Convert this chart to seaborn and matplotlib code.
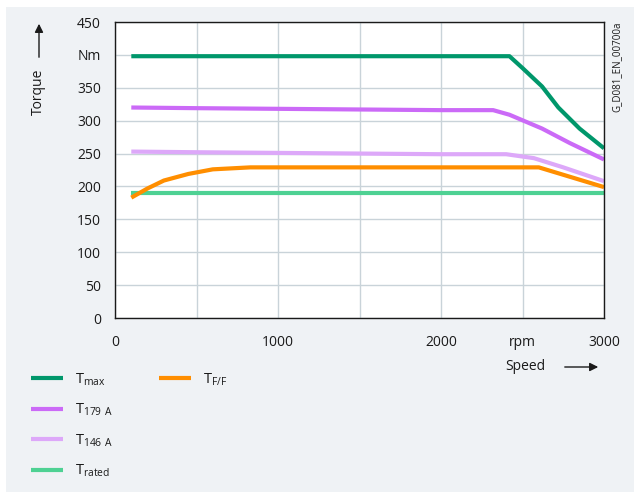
import numpy as np
import pandas as pd
import matplotlib
matplotlib.use("Agg")
import matplotlib.pyplot as plt
from matplotlib.lines import Line2D
from matplotlib.patches import Rectangle, FancyArrowPatch
import seaborn as sns

# ---- data ----
speed_max = [100, 500, 1000, 1500, 2000, 2420, 2500, 2620, 2720, 2850, 3000]
t_max = [398, 398, 398, 398, 398, 398, 380, 352, 320, 288, 258]

speed_179 = [100, 500, 1000, 1500, 2000, 2320, 2420, 2620, 2790, 3000]
t_179 = [320, 319, 318, 317, 316, 316, 309, 288, 266, 241]

speed_146 = [100, 500, 1000, 1500, 2000, 2400, 2570, 2750, 3000]
t_146 = [253, 252, 251, 250, 249, 249, 243, 229, 208]

speed_rated = [100, 3000]
t_rated = [190, 190]

speed_ff = [100, 200, 300, 450, 600, 830, 1500, 2000, 2600, 3000]
t_ff = [183, 197, 209, 219, 226, 229, 229, 229, 229, 199]

y_ticks = [0, 50, 100, 150, 200, 250, 300, 350, 400, 450]
y_labels = ["0", "50", "100", "150", "200", "250", "300", "350", "Nm", "450"]
x_ticks = [0, 1000, 2000, 2500, 3000]
x_labels = ["0", "1000", "2000", "rpm", "3000"]

series = [
    ("Tmax", speed_max, t_max, "#00976B", r"T$_\mathregular{max}$"),
    ("T179", speed_179, t_179, "#CB6AF7", r"T$_\mathregular{179\ A}$"),
    ("T146", speed_146, t_146, "#DDA8F9", r"T$_\mathregular{146\ A}$"),
    ("Trated", speed_rated, t_rated, "#4ED193", r"T$_\mathregular{rated}$"),
    ("TFF", speed_ff, t_ff, "#FF8E00", r"T$_\mathregular{F/F}$"),
]

sns.set_style("white")
plt.rcParams["font.family"] = ["Open Sans", "DejaVu Sans"]
plt.rcParams["mathtext.fontset"] = "custom"
plt.rcParams["mathtext.rm"] = "Open Sans"

W, H = 643, 494
fig = plt.figure(figsize=(W / 100, H / 100), dpi=100)
fig.patch.set_facecolor("white")
fig.add_artist(Rectangle((6 / W, 1 - 492 / H), (634 - 6) / W, (492 - 7) / H,
                         transform=fig.transFigure, facecolor="#EFF2F5",
                         edgecolor="none", zorder=-10))

ax = fig.add_axes([115 / W, 1 - 318 / H, (604 - 115) / W, (318 - 22) / H])
ax.set_facecolor("white")

handles = {}
draw_order = ["Trated", "TFF", "T146", "T179", "Tmax"]
lookup = {s[0]: s for s in series}
for key in draw_order:
    name, xs, ys, col, lab = lookup[key]
    df = pd.DataFrame({"speed": xs, "torque": ys})
    sns.lineplot(data=df, x="speed", y="torque", ax=ax, color=col,
                 linewidth=3.0, sort=False, estimator=None, legend=False,
                 solid_capstyle="butt")
    handles[name] = Line2D([], [], color=col, linewidth=3.0, solid_capstyle="butt")

ax.set_xlim(0, 3000)
ax.set_ylim(0, 450)
ax.set_xticks(x_ticks)
ax.set_xticklabels(x_labels)
ax.set_xticks([500, 1500], minor=True)
ax.set_yticks(y_ticks)
ax.set_yticklabels(y_labels)
ax.grid(True, which="both", color="#C9D3D9", linewidth=1.0)
ax.set_axisbelow(True)
ax.set_xlabel("")
ax.set_ylabel("")
for sp in ax.spines.values():
    sp.set_color("#1a1a1a")
    sp.set_linewidth(1.0)
ax.tick_params(axis="both", which="major", direction="out", length=5, width=1,
               color="#1a1a1a", labelsize=10, labelcolor="#1a1a1a", pad=5)
ax.tick_params(axis="x", which="minor", length=0)
ax.tick_params(axis="x", which="major", pad=7)
ax.xaxis.get_major_ticks()[3].tick1line.set_visible(False)

# axis titles with arrows
fig.text(38 / W, 1 - 92 / H, "Torque", rotation=90, ha="center", va="center",
         fontsize=10, color="#1a1a1a")
fig.add_artist(FancyArrowPatch((39 / W, 1 - 60 / H), (39 / W, 1 - 21 / H),
                               transform=fig.transFigure, arrowstyle="-|>,head_length=5,head_width=2.5",
                               color="#1a1a1a", linewidth=1.0, mutation_scale=1))
fig.text(525 / W, 1 - 366 / H, "Speed", ha="center", va="center",
         fontsize=10, color="#1a1a1a")
fig.add_artist(FancyArrowPatch((562 / W, 1 - 367 / H), (601 / W, 1 - 367 / H),
                               transform=fig.transFigure, arrowstyle="-|>,head_length=5,head_width=2.5",
                               color="#1a1a1a", linewidth=1.0, mutation_scale=1))
fig.text(617 / W, 1 - 22 / H, "G_D081_EN_00700a", rotation=90, ha="center", va="top",
         fontsize=7, color="#1a1a1a")

# legend (two columns: 4 entries + 1 entry)
blank = Line2D([], [], color="none")
leg_handles = [handles["Tmax"], handles["T179"], handles["T146"], handles["Trated"],
               handles["TFF"], blank, blank, blank]
leg_labels = [lookup["Tmax"][4], lookup["T179"][4], lookup["T146"][4], lookup["Trated"][4],
              lookup["TFF"][4], "", "", ""]
fig.legend(leg_handles, leg_labels, ncol=2, loc="upper left",
           bbox_to_anchor=(18 / W, 1 - 358 / H), frameon=False, fontsize=10.5,
           handlelength=2.2, handletextpad=0.8, labelspacing=0.95,
           columnspacing=3.2, labelcolor="#1a1a1a")

fig.savefig("out.png", dpi=100, facecolor=fig.get_facecolor())
